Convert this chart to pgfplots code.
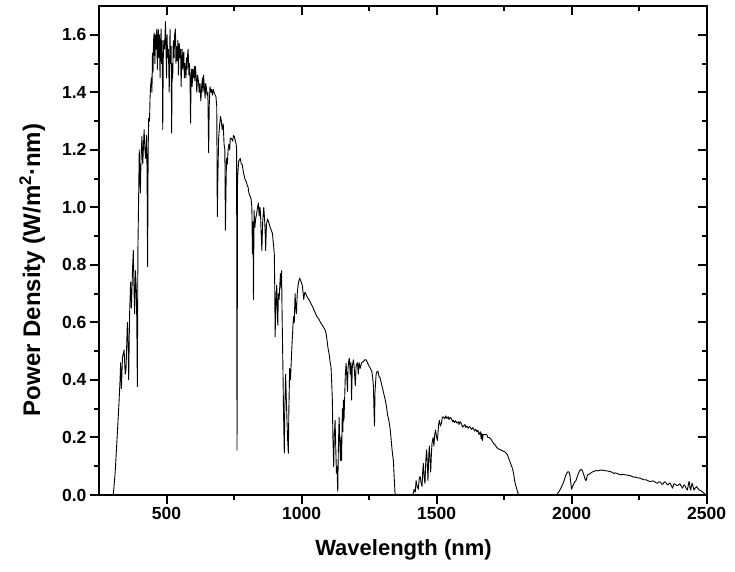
\documentclass[border=0pt]{standalone}
\usepackage{pgfplots}
\pgfplotsset{compat=1.18}
\usepackage{fontspec}
\setmainfont{Liberation Sans}

\pgfplotstableread{
lam p
280 0
303 0
310 0.08
318 0.215
324 0.32
328 0.40
330 0.46
333 0.37
337 0.48
343 0.504
347 0.42
350 0.435
355 0.60
358 0.52
360 0.40
363 0.62
367 0.74
370 0.65
374 0.78
377 0.85
380 0.70
382 0.63
385 0.78
388 0.72
390 0.60
392 0.377
394 0.85
397 1.05
399 1.20
401 1.12
403 1.05
406 1.18
409 1.246
412 1.15
415 1.22
417 1.27
420 1.20
423 1.17
426 1.25
428 1.12
430 0.794
432 1.20
434 1.31
437 1.30
439 1.38
441 1.42
444 1.45
446 1.40
448 1.536
450 1.47
452 1.58
454 1.606
457 1.50
459 1.60
461 1.55
464 1.62
466 1.48
468 1.58
470 1.617
472 1.52
474 1.60
476 1.45
478 1.57
480 1.62
482 1.50
484 1.58
486 1.27
488 1.52
490 1.58
493 1.55
496 1.646
498 1.56
500 1.45
502 1.60
504 1.52
507 1.55
510 1.40
513 1.62
515 1.50
517 1.56
519 1.258
521 1.50
523 1.45
525 1.58
528 1.52
530 1.60
533 1.62
535 1.50
537 1.56
540 1.51
542 1.58
544 1.46
547 1.57
550 1.52
552 1.55
554 1.42
556 1.50
558 1.55
560 1.48
562 1.53
564 1.54
566 1.45
568 1.50
570 1.47
572 1.45
574 1.52
576 1.48
578 1.53
580 1.55
583 1.46
585 1.50
587 1.45
589 1.293
591 1.45
593 1.48
595 1.42
597 1.48
600 1.45
603 1.49
605 1.44
607 1.49
610 1.45
612 1.40
615 1.46
618 1.44
621 1.40
624 1.43
627 1.37
630 1.42
633 1.45
635 1.40
637 1.46
640 1.42
643 1.38
645 1.43
647 1.42
650 1.39
653 1.40
656 1.19
658 1.35
661 1.42
664 1.40
667 1.41
670 1.39
673 1.41
676 1.40
680 1.39
683 1.385
686 1.35
688 0.968
690 1.10
693 1.24
696 1.28
700 1.316
703 1.30
706 1.27
710 1.29
713 1.22
716 1.20
718 0.92
720 1.05
722 1.17
725 1.15
728 1.20
731 1.22
734 1.20
736 1.24
740 1.24
745 1.23
748 1.25
751 1.246
755 1.23
758 1.22
759.5 1.20
761 0.156
763 1.10
767 1.16
773 1.17
777 1.15
780 1.15
785 1.12
791 1.096
795 1.09
798 1.08
802 1.07
805 1.05
809 1.04
813 1.03
816 1.00
818 0.84
820 0.95
822 0.68
824 0.99
827 0.93
830 0.96
834 0.98
837 1.00
840 1.015
843 0.97
846 1.00
848 0.98
850 0.92
853 0.85
856 0.95
860 1.00
863 0.96
865 0.92
867 0.85
870 0.94
874 0.96
878 0.95
881 0.94
884 0.93
888 0.92
892 0.91
895 0.88
897 0.86
899 0.84
901 0.70
902 0.55
905 0.66
908 0.73
910 0.65
912 0.59
914 0.70
917 0.68
920 0.74
922 0.77
924 0.72
926 0.78
928 0.62
931 0.44
933 0.30
936 0.145
938 0.30
941 0.42
943 0.35
946 0.26
948 0.20
951 0.145
953 0.30
956 0.44
959 0.40
963 0.49
966 0.55
970 0.62
973 0.60
976 0.70
978 0.66
981 0.63
984 0.70
986 0.72
989 0.74
993 0.754
997 0.745
1000 0.735
1003 0.728
1006 0.70
1008 0.68
1011 0.70
1013 0.705
1020 0.69
1028 0.678
1035 0.665
1043 0.65
1050 0.635
1057 0.62
1065 0.61
1072 0.597
1080 0.585
1087 0.574
1091 0.56
1094 0.54
1098 0.51
1102 0.49
1106 0.46
1109 0.446
1112 0.38
1114 0.33
1116 0.20
1119 0.098
1121 0.20
1124 0.26
1127 0.15
1129 0.076
1131 0.10
1134 0.012
1136 0.15
1139 0.27
1141 0.20
1144 0.12
1146 0.20
1148 0.12
1151 0.30
1153 0.22
1155 0.33
1157 0.26
1160 0.35
1162 0.42
1165 0.458
1168 0.40
1170 0.36
1172 0.44
1175 0.47
1177 0.475
1180 0.42
1183 0.46
1185 0.33
1188 0.45
1192 0.47
1195 0.44
1199 0.38
1202 0.45
1207 0.46
1210 0.42
1213 0.46
1217 0.44
1222 0.46
1229 0.464
1234 0.47
1239 0.47
1244 0.46
1249 0.45
1255 0.44
1260 0.43
1263 0.41
1266 0.38
1268 0.30
1270 0.24
1272 0.36
1276 0.42
1280 0.43
1283 0.43
1287 0.41
1290 0.41
1295 0.39
1300 0.37
1305 0.35
1310 0.33
1314 0.31
1318 0.28
1323 0.26
1328 0.23
1331 0.20
1334 0.168
1337 0.14
1340 0.12
1343 0.06
1346 0.006
1350 0
1412 0
1417 0.02
1421 0.01
1424 0.05
1428 0.03
1432 0.02
1436 0.06
1439 0.064
1443 0.04
1446 0.03
1449 0.09
1451 0.11
1454 0.06
1457 0.04
1460 0.12
1463 0.157
1466 0.10
1468 0.05
1471 0.14
1473 0.17
1476 0.12
1478 0.08
1481 0.15
1483 0.18
1487 0.20
1490 0.17
1493 0.21
1496 0.226
1500 0.20
1503 0.19
1507 0.24
1510 0.26
1514 0.24
1518 0.25
1521 0.27
1525 0.272
1530 0.265
1534 0.275
1538 0.266
1543 0.272
1546 0.262
1550 0.27
1555 0.265
1559 0.255
1562 0.26
1566 0.252
1570 0.258
1575 0.25
1580 0.255
1583 0.245
1587 0.255
1592 0.248
1596 0.236
1600 0.24
1605 0.245
1608 0.235
1612 0.24
1617 0.232
1621 0.238
1625 0.235
1630 0.228
1634 0.234
1637 0.23
1641 0.222
1645 0.228
1649 0.22
1653 0.225
1657 0.21
1662 0.22
1665 0.195
1667 0.215
1670 0.19
1672 0.21
1675 0.21
1680 0.21
1685 0.21
1690 0.2
1695 0.20
1700 0.195
1704 0.19
1710 0.18
1717 0.174
1723 0.165
1729 0.16
1735 0.158
1741 0.155
1747 0.152
1753 0.15
1758 0.145
1762 0.14
1766 0.13
1770 0.12
1774 0.11
1778 0.10
1782 0.088
1785 0.075
1788 0.055
1791 0.04
1794 0.03
1797 0.02
1800 0.01
1803 0.003
1810 0
1943 0
1952 0.01
1958 0.02
1963 0.03
1968 0.04
1972 0.05
1977 0.065
1981 0.075
1985 0.08
1989 0.081
1992 0.075
1994 0.065
1997 0.04
2000 0.02
2003 0.03
2006 0.035
2011 0.045
2016 0.05
2021 0.065
2025 0.075
2030 0.085
2034 0.089
2038 0.087
2041 0.081
2045 0.07
2049 0.058
2052 0.05
2054 0.052
2057 0.065
2059 0.07
2064 0.072
2069 0.075
2074 0.079
2079 0.081
2084 0.083
2088 0.085
2094 0.084
2100 0.085
2106 0.086
2113 0.087
2120 0.085
2129 0.084
2136 0.083
2144 0.081
2150 0.079
2156 0.075
2162 0.077
2168 0.075
2175 0.072
2181 0.07
2187 0.072
2193 0.071
2200 0.07
2206 0.069
2212 0.068
2218 0.067
2224 0.064
2230 0.062
2237 0.062
2243 0.06
2249 0.059
2255 0.058
2261 0.055
2267 0.053
2274 0.053
2280 0.051
2286 0.048
2292 0.046
2298 0.049
2305 0.048
2311 0.043
2317 0.041
2323 0.046
2329 0.044
2334 0.037
2339 0.039
2343 0.046
2348 0.044
2352 0.038
2357 0.035
2362 0.042
2366 0.039
2370 0.03
2374 0.024
2377 0.036
2381 0.039
2386 0.035
2391 0.032
2396 0.036
2401 0.039
2406 0.03
2411 0.024
2414 0.033
2418 0.035
2423 0.025
2428 0.017
2431 0.03
2434 0.046
2436 0.046
2438 0.025
2441 0.017
2443 0.03
2446 0.041
2450 0.028
2453 0.017
2458 0.025
2463 0.029
2468 0.022
2473 0.017
2478 0.015
2483 0.012
2488 0.008
2493 0.003
2498 0
}\spectrum

\begin{document}
\begin{tikzpicture}
\useasboundingbox (-99pt,-76pt) rectangle (636pt,495pt);
\pgfplotsset{
  common/.style={
    at={(0,0)}, anchor=south west,
    scale only axis, width=607.7pt, height=489pt,
    xmin=250, xmax=2500, ymin=0, ymax=1.7,
    xtick={500,1000,1500,2000,2500},
    ytick={0,0.2,0.4,0.6,0.8,1.0,1.2,1.4,1.6},
    minor x tick num=1, minor y tick num=1,
    major tick length=9pt, minor tick length=5pt,
    axis line style={line width=2pt},
    every tick/.append style={line width=2pt, black},
  }
}
\begin{axis}[
  common,
  tick align=outside,
  xtick pos=left, ytick pos=left,
  /pgf/number format/assume math mode=true,
  ticklabel style={font=\fontsize{17.5}{17.5}\selectfont\bfseries},
  yticklabel style={/pgf/number format/fixed, /pgf/number format/fixed zerofill, /pgf/number format/precision=1},
  xticklabel style={/pgf/number format/set thousands separator={}},
  every axis x label/.style={at={(axis description cs:0.501,-0.1125)}, anchor=center},
  every axis y label/.style={at={(axis description cs:-0.110,0.46)}, anchor=center, rotate=90},
  xlabel={\fontsize{22}{22}\selectfont\bfseries Wavelength (nm)},
  ylabel={\fontsize{24}{24}\selectfont\bfseries Power Density (W/m\textsuperscript{2}·nm)},
]
\addplot[black, line width=0.9pt, line join=round] table[x=lam, y=p] {\spectrum};
\end{axis}
\begin{axis}[
  common,
  tick align=inside,
  xtick pos=right, ytick pos=right,
  xticklabels={}, yticklabels={},
]
\end{axis}
\end{tikzpicture}
\end{document}
